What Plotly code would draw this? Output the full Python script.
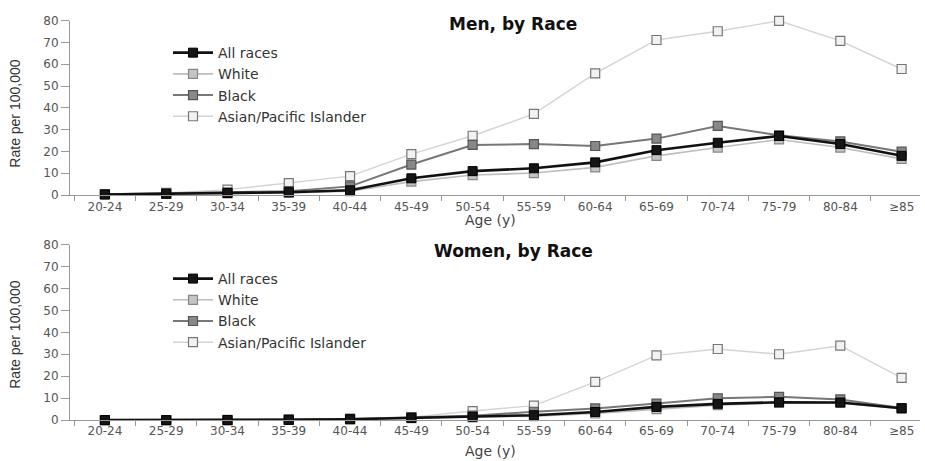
import plotly.graph_objects as go

ages = ["20-24", "25-29", "30-34", "35-39", "40-44", "45-49", "50-54",
        "55-59", "60-64", "65-69", "70-74", "75-79", "80-84", "≥85"]

men_all = [0.3, 0.6, 1.0, 1.3, 2.2, 7.7, 11.0, 12.3, 15.0, 20.6, 24.0, 27.1, 23.4, 18.0]
men_white = [0.3, 0.5, 0.8, 1.0, 1.8, 6.2, 9.2, 10.1, 12.7, 18.0, 21.8, 25.5, 21.8, 16.6]
men_black = [0.4, 0.8, 1.2, 1.8, 4.0, 14.0, 23.0, 23.4, 22.5, 25.9, 31.7, 27.4, 24.6, 19.9]
men_asian = [0.5, 1.0, 2.5, 5.5, 8.7, 18.8, 27.2, 37.2, 55.8, 71.1, 75.1, 79.9, 70.7, 57.8]

women_all = [0.0, 0.0, 0.0, 0.1, 0.4, 1.0, 1.5, 2.2, 3.7, 6.0, 7.4, 8.1, 8.0, 5.4]
women_white = [0.0, 0.0, 0.0, 0.1, 0.3, 0.9, 1.2, 1.8, 3.0, 5.0, 6.8, 7.8, 7.8, 5.2]
women_black = [0.0, 0.0, 0.0, 0.2, 0.5, 1.2, 2.0, 3.8, 5.3, 7.5, 9.9, 10.6, 9.4, 5.5]
women_asian = [0.0, 0.0, 0.1, 0.2, 0.6, 1.3, 4.1, 6.6, 17.4, 29.5, 32.4, 30.0, 33.9, 19.2]

series_names = ["All races", "White", "Black", "Asian/Pacific Islander"]
y_ticks = [0, 10, 20, 30, 40, 50, 60, 70, 80]

styles = [
    dict(line=dict(color="#111111", width=2.6),
         marker=dict(symbol="square", size=9, color="#151515", line=dict(color="#000000", width=1))),
    dict(line=dict(color="#bdbdbd", width=1.6),
         marker=dict(symbol="square", size=9, color="#c4c4c4", line=dict(color="#888888", width=1.2))),
    dict(line=dict(color="#777777", width=2.0),
         marker=dict(symbol="square", size=9, color="#888888", line=dict(color="#555555", width=1.2))),
    dict(line=dict(color="#d4d4d4", width=1.4),
         marker=dict(symbol="square", size=9, color="#f2f2f2", line=dict(color="#777777", width=1.2))),
]

fig = go.Figure()
men = [men_all, men_white, men_black, men_asian]
women = [women_all, women_white, women_black, women_asian]
# draw Asian first and "All races" last so it sits on top; legend order kept by legendrank
for i in [3, 1, 2, 0]:
    fig.add_trace(go.Scatter(x=ages, y=men[i], name=series_names[i], mode="lines+markers",
                             xaxis="x", yaxis="y", legend="legend", legendrank=i + 1,
                             cliponaxis=False, **styles[i]))
for i in [3, 1, 2, 0]:
    fig.add_trace(go.Scatter(x=ages, y=women[i], name=series_names[i], mode="lines+markers",
                             xaxis="x2", yaxis="y2", legend="legend2", legendrank=i + 1,
                             cliponaxis=False, **styles[i]))

W, H = 925, 461
L, R = 70, 5
plot_w = W - L - R

def ydom(top_px, bot_px):
    return [1 - bot_px / H, 1 - top_px / H]

tickfont = dict(family="DejaVu Sans", size=12, color="#555555")
xcommon = dict(type="category", range=[-0.57, 13.3], showline=True, linecolor="#999999",
               linewidth=1, ticks="outside", tickson="boundaries", ticklen=5,
               tickcolor="#999999", tickfont=tickfont, showgrid=False, zeroline=False)
ycommon = dict(range=[0, 80], tickvals=y_ticks, showline=True, linecolor="#999999",
               linewidth=1, ticks="outside", ticklen=8, tickcolor="#999999",
               tickfont=tickfont, showgrid=False, zeroline=False)

legend_common = dict(font=dict(family="DejaVu Sans", size=14, color="#333333"),
                     bgcolor="rgba(0,0,0,0)", xanchor="left", yanchor="top",
                     tracegroupgap=0, itemwidth=40, traceorder="normal")

fig.update_layout(
    width=W, height=H,
    margin=dict(l=L, r=R, t=0, b=0),
    paper_bgcolor="white", plot_bgcolor="white",
    showlegend=True,
    xaxis=dict(domain=[0, 1], anchor="y", **xcommon),
    yaxis=dict(domain=ydom(14, 194), anchor="x", **ycommon),
    xaxis2=dict(domain=[0, 1], anchor="y2", **xcommon),
    yaxis2=dict(domain=ydom(245, 426), anchor="x2", **ycommon),
    legend=dict(x=(168 - L) / plot_w, y=1 - 31 / H, **legend_common),
    legend2=dict(x=(168 - L) / plot_w, y=1 - 264 / H, **legend_common),
)

title_font = dict(family="DejaVu Sans", size=17, color="#111111")
label_font = dict(family="Liberation Sans Narrow, Liberation Sans, Arial", size=14, color="#333333")
axis_font = dict(family="DejaVu Sans", size=14, color="#444444")

annots = [
    dict(text="<b>Men, by Race</b>", x=(513 - L) / plot_w, y=1 - 18 / H, font=title_font),
    dict(text="<b>Women, by Race</b>", x=(513 - L) / plot_w, y=1 - 252 / H, font=title_font),
    dict(text="Age (y)", x=(490 - L) / plot_w, y=1 - 220 / H, font=axis_font),
    dict(text="Age (y)", x=(490 - L) / plot_w, y=1 - 458 / H, font=axis_font),
    dict(text="Rate per 100,000", x=(15 - L) / plot_w, y=1 - 110 / H, font=label_font, textangle=-90),
    dict(text="Rate per 100,000", x=(15 - L) / plot_w, y=1 - 338 / H, font=label_font, textangle=-90),
]
for a in annots:
    fig.add_annotation(xref="paper", yref="paper", showarrow=False,
                       xanchor="center", yanchor="middle", **a)

fig.write_html("out.html")
